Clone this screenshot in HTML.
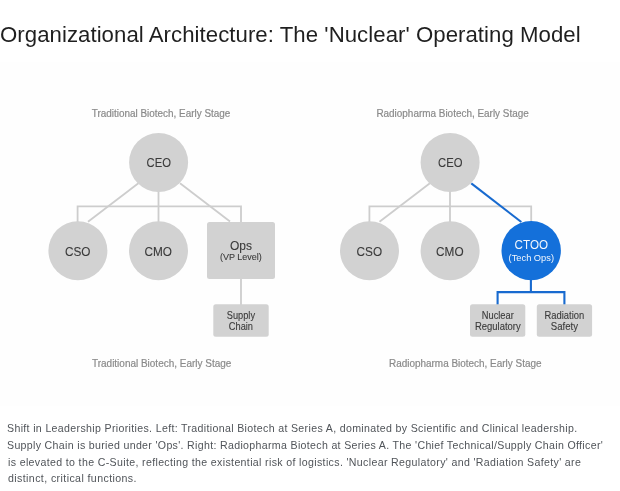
<!DOCTYPE html>
<html lang="en">
<head>
<meta charset="utf-8">
<title>Organizational Architecture: The 'Nuclear' Operating Model</title>
<style>
html,body{margin:0;padding:0;background:#fff;}
body{width:620px;height:491px;position:relative;overflow:hidden;font-family:"Liberation Sans",Arial,sans-serif;}
.t{position:absolute;white-space:nowrap;line-height:1;margin:0;padding:0;transform-origin:0 0;}
h1.t{font-weight:400;font-size:22.2px;color:#1f1f1f;left:0.3px;top:23.9px;letter-spacing:0.05px;transform:scale(1,1.02);will-change:transform;}
.fig{position:absolute;left:0;top:62px;width:620px;height:344px;background:#fefefe;}
svg{position:absolute;left:0;top:0;will-change:transform;}
svg text{font-family:"Liberation Sans",Arial,sans-serif;}
.cap{font-size:10.2px;fill:#8a8a8a;stroke:#8a8a8a;stroke-width:0.2px;}
.n{font-size:12.8px;fill:#3a3a3a;stroke:#3a3a3a;stroke-width:0.1px;}
.s{font-size:9.3px;fill:#3a3a3a;stroke:#3a3a3a;stroke-width:0.1px;}
.b{font-size:10.2px;fill:#3a3a3a;stroke:#3a3a3a;stroke-width:0.1px;}
.w{fill:#f3f7fd;stroke:none;}
.p{font-size:10.6px;color:#505459;left:7.2px;letter-spacing:0.33px;will-change:transform;}
</style>
</head>
<body>
<h1 class="t" id="title">Organizational Architecture: The 'Nuclear' Operating Model</h1>
<div class="fig"></div>
<svg width="620" height="491" viewBox="0 0 620 491">
  <g stroke="#cdcdcd" stroke-width="1.8" fill="none">
    <path d="M77.6 222 V206.3 H241 V222"/>
    <path d="M158.5 190 V222"/>
    <path d="M138.4 183.3 L88 221.8"/>
    <path d="M180 183.3 L230 221.5"/>
    <path d="M241 278 V305"/>
    <path d="M369.4 222 V206.3 H531.2 V222"/>
    <path d="M450 190 V222"/>
    <path d="M429.9 183.3 L379.5 221.8"/>
  </g>
  <g stroke="#186acf" stroke-width="2.1" fill="none">
    <path d="M471.3 183.3 L521.3 222"/>
    <path d="M530.9 279 V292.1"/>
    <path d="M497.6 305 V292.1 H564.4 V305"/>
  </g>
  <g fill="#d2d2d2">
    <circle cx="158.6" cy="162.4" r="29.5"/>
    <circle cx="77.9" cy="250.7" r="29.5"/>
    <circle cx="158.5" cy="250.7" r="29.5"/>
    <circle cx="450.1" cy="162.4" r="29.5"/>
    <circle cx="369.5" cy="250.7" r="29.5"/>
    <circle cx="450.1" cy="250.7" r="29.5"/>
    <rect x="207" y="222" width="68" height="57" rx="2.5"/>
    <rect x="213.3" y="304.3" width="55.4" height="32.4" rx="2.5"/>
    <rect x="470" y="304.3" width="55.3" height="32.4" rx="2.5"/>
    <rect x="536.8" y="304.3" width="55.3" height="32.4" rx="2.5"/>
  </g>
  <circle cx="531.2" cy="250.6" r="29.7" fill="#1470da"/>

  <text class="cap" x="91.8" y="116.9" textLength="138.5" lengthAdjust="spacingAndGlyphs">Traditional Biotech, Early Stage</text>
  <text class="cap" x="376.4" y="116.9" textLength="152.4" lengthAdjust="spacingAndGlyphs">Radiopharma Biotech, Early Stage</text>
  <text class="cap" x="92" y="366.9" textLength="139.3" lengthAdjust="spacingAndGlyphs">Traditional Biotech, Early Stage</text>
  <text class="cap" x="389" y="366.9" textLength="152.5" lengthAdjust="spacingAndGlyphs">Radiopharma Biotech, Early Stage</text>

  <text class="n" x="146.5" y="167.2" textLength="24.4" lengthAdjust="spacingAndGlyphs">CEO</text>
  <text class="n" x="65" y="255.6" textLength="25.5" lengthAdjust="spacingAndGlyphs">CSO</text>
  <text class="n" x="144.5" y="255.6" textLength="27.5" lengthAdjust="spacingAndGlyphs">CMO</text>
  <text class="n" x="230" y="249.6" textLength="22" lengthAdjust="spacingAndGlyphs">Ops</text>
  <text class="s" x="220" y="260.4" textLength="41.8" lengthAdjust="spacingAndGlyphs">(VP Level)</text>
  <text class="b" x="226.8" y="318.7" textLength="28.2" lengthAdjust="spacingAndGlyphs">Supply</text>
  <text class="b" x="228.8" y="329.5" textLength="24.2" lengthAdjust="spacingAndGlyphs">Chain</text>

  <text class="n" x="438" y="167.2" textLength="24.4" lengthAdjust="spacingAndGlyphs">CEO</text>
  <text class="n" x="356.6" y="255.6" textLength="25.5" lengthAdjust="spacingAndGlyphs">CSO</text>
  <text class="n" x="436.1" y="255.6" textLength="27.5" lengthAdjust="spacingAndGlyphs">CMO</text>
  <text class="n w" x="514.6" y="249.1" textLength="33.4" lengthAdjust="spacingAndGlyphs">CTOO</text>
  <text class="s w" x="508.6" y="260.6" textLength="45.4" lengthAdjust="spacingAndGlyphs">(Tech Ops)</text>
  <text class="b" x="481.8" y="318.7" textLength="32" lengthAdjust="spacingAndGlyphs">Nuclear</text>
  <text class="b" x="475" y="329.5" textLength="45.7" lengthAdjust="spacingAndGlyphs">Regulatory</text>
  <text class="b" x="544.5" y="318.7" textLength="39.7" lengthAdjust="spacingAndGlyphs">Radiation</text>
  <text class="b" x="550.8" y="329.5" textLength="27.2" lengthAdjust="spacingAndGlyphs">Safety</text>
</svg>

<div class="t p" style="top:423.3px;letter-spacing:0.34px">Shift in Leadership Priorities. Left: Traditional Biotech at Series A, dominated by Scientific and Clinical leadership.</div>
<div class="t p" style="top:440.3px;letter-spacing:0.327px">Supply Chain is buried under 'Ops'. Right: Radiopharma Biotech at Series A. The 'Chief Technical/Supply Chain Officer'</div>
<div class="t p" style="top:456.8px;left:7.6px;letter-spacing:0.349px">is elevated to the C-Suite, reflecting the existential risk of logistics. 'Nuclear Regulatory' and 'Radiation Safety' are</div>
<div class="t p" style="top:473.3px;left:7.6px;letter-spacing:0.405px">distinct, critical functions.</div>
</body>
</html>
